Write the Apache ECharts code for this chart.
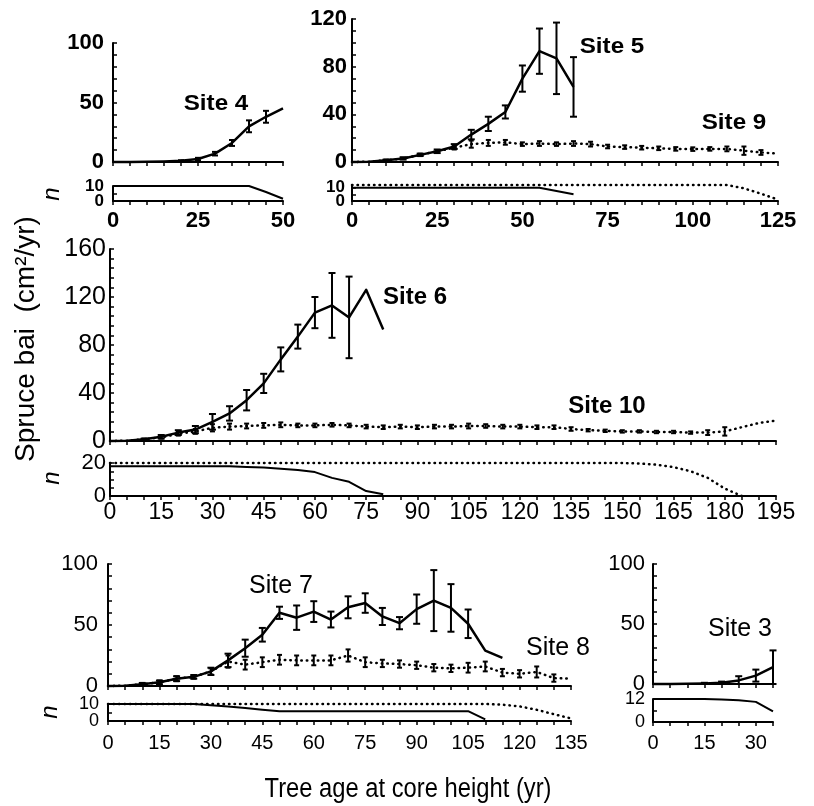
<!DOCTYPE html>
<html><head><meta charset="utf-8">
<script src="https://cdn.jsdelivr.net/npm/echarts@6/dist/echarts.min.js"></script>
<style>html,body{margin:0;padding:0;background:#fff}#c{width:814px;height:806px}</style>
</head><body><div id="c"></div>
<script>
// ---------------- DATA ----------------
// Site 4
const age4 = [0,5,10,15,20,25,30,35,40,45,50];
const bai4 = [0,0,0.2,0.5,1,2.5,7,16,30,38,45];
const se4  = [null,null,null,null,0.5,1,1.5,2.5,5,5,null];
const n4   = [10,10,10,10,10,10,10,10,10,6,1.5];
// Site 5
const age5 = [0,5,10,15,20,25,30,35,40,45,50,55,60,65];
const bai5 = [0,0.3,1.5,3,6,9,13,23,32,42,70,93,87,63];
const se5  = [null,null,0.5,1,1,1.5,2,4,6,5.5,11,19,30,25];
const n5   = [10,10,10,10,10,10,10,10,10,10,10,10,7.5,5];
// Site 9
const age9 = [0,5,10,15,20,25,30,35,40,45,50,55,60,65,70,75,80,85,90,95,100,105,110,115,120,125];
const bai9 = [0,0.3,1.5,3,6,9,12,15,16,16.5,15,15.5,15,15.5,15,13,12.5,12,11.5,11,10.8,11,11,9.5,8,7];
const se9  = [null,null,0.5,0.5,1,1,1.5,3,2.5,2,1.5,2,1.5,2,2,1.5,1.5,1.5,1.5,1.5,1.5,1.5,2,3.5,2,null];
const n9   = [12,12,12,12,12,12,12,12,12,12,12,12,12,12,12,12,12,12,12,12,12,12,12,9.5,5.5,1];
// Site 6
const age6 = [0,5,10,15,20,25,30,35,40,45,50,55,60,65,70,75,80];
const bai6 = [0,0.3,1.5,3.5,7,9.5,16,23,34,48,68,87,107,113,103,126,93];
const se6  = [null,null,0.5,1.5,2,3,6.5,6,8.5,8,10,10,13,27,34,null,null];
const n6   = [18,18,18,18,18,18,18,18,17.6,17.3,16.5,15.7,14.5,11,8.6,3,1];
// Site 10
const age10 = [0,5,10,15,20,25,30,35,40,45,50,55,60,65,70,75,80,85,90,95,100,105,110,115,120,125,130,135,140,145,150,155,160,165,170,175,180,185,190,195];
const bai10 = [0,0.3,1.5,3,6,8,11,12,12.5,13,13.5,13,13,13.5,13,12,11.5,12,11.5,12,12,12.5,12.5,12,12,11.5,11.5,10,9,8.5,8,8,7.5,7.5,7,7,8,11.5,15,17];
const se10  = [null,null,0.5,1,1.5,2,3,2.5,2,2,2,1.5,1.5,1.5,1.5,1.5,1.5,1.5,1.5,1.5,1.5,2,1.5,1.5,1.5,1.5,1.5,1.5,1,1,1,1,1,1,1,2,3.5,null,null,null];
const n10   = [20,20,20,20,20,20,20,20,20,20,20,20,20,20,20,20,20,20,20,20,20,20,20,20,20,20,20,20,20,20,20,19.7,19,17.5,15,11,4.5,0];
// Site 7
const age7 = [0,5,10,15,20,25,30,35,40,45,50,55,60,65,70,75,80,85,90,95,100,105,110,115];
const bai7 = [0,0.3,1.5,3,6,7.5,12,21,31,42,60,56,61,54.5,64.5,68,57,51.5,63,70,64,51,29,23];
const se7  = [null,null,1,1.5,2,1.5,3,5.5,7,5.6,5,10,8.5,6.5,9,8,7,5,12,25,19.5,11.7,null,null];
const n7   = [10,10,10,10,10,10,9.2,8.6,7.6,6.6,5.8,5.8,5.8,5.8,5.8,5.8,5.8,5.8,5.8,5.8,5.8,5.8,1];
// Site 8
const age8 = [0,5,10,15,20,25,30,35,40,45,50,55,60,65,70,75,80,85,90,95,100,105,110,115,120,125,130,135];
const bai8 = [0,0.3,1.5,3,6,7.5,12,20,17.5,19.5,21.5,21,21,21,25,19.5,18.5,18,17,15,14.5,15,16,11,10,11.5,6.5,6];
const se8  = [null,null,1,1.5,2,1.5,2.5,5,4,4,4,4,4,4,5,4,3,3,3,3,3,4,4,3,3,4.5,3,null];
const n8   = [10,10,10,10,10,10,10,10,10,10,10,10,10,10,10,10,10,10,10,10,10,10,10,9.6,8.6,6.6,4,1.5];
// Site 3
const age3 = [0,5,10,15,20,25,30,35];
const bai3 = [0,0,0.2,0.5,1,3,7,14];
const se3  = [null,null,null,0.5,1,3.5,5,14];
const n3   = [12,12,12,12,11.8,11.3,10.5,5.5];

// Tick labels
const xLab1 = [0,25,50];
const xLab2 = [0,25,50,75,100,125];
const xLab3 = [0,15,30,45,60,75,90,105,120,135,150,165,180,195];
const xLab4 = [0,15,30,45,60,75,90,105,120,135];
const xLab5 = [0,15,30];
const yLab1 = [0,50,100];
const yLab2 = [0,40,80,120];
const yLab3 = [0,40,80,120,160];
const yLab4 = [0,50,100];
const yLab5 = [0,50,100];
const nLab1 = [0,10];
const nLab2 = [0,10];
const nLab3 = [0,20];
const nLab4 = [0,10];
const nLab5 = [0,12];

// ---------------- HELPERS ----------------
const FF = '"Liberation Sans", Arial, sans-serif';
function range(a, b, s) { const r = []; for (let v = a; v <= b + 1e-9; v += s) r.push(+v.toFixed(6)); return r; }
function pairs(x, y) { return y.map((v, i) => [x[i], v]); }
function errData(x, y, e) { const o = []; e.forEach((v, i) => { if (v != null) o.push([x[i], Math.max(0, y[i] - v), y[i] + v]); }); return o; }

function lineS(ai, x, y, dotted, w) {
  return { type: 'line', xAxisIndex: ai, yAxisIndex: ai, data: pairs(x, y), symbol: 'none', showSymbol: false,
    silent: true, z: 2, clip: false,
    lineStyle: dotted ? { color: '#000', width: w, type: [0.5, 5], cap: 'round' }
                      : { color: '#000', width: w, type: 'solid', join: 'round' } };
}
function errS(ai, x, y, e, cap, w) {
  return { type: 'custom', xAxisIndex: ai, yAxisIndex: ai, data: errData(x, y, e), silent: true, z: 3,
    encode: { x: 0, y: [1, 2] },
    renderItem: function (params, api) {
      const p1 = api.coord([api.value(0), api.value(2)]);
      const p2 = api.coord([api.value(0), api.value(1)]);
      const st = { stroke: '#000', lineWidth: w };
      return { type: 'group', children: [
        { type: 'line', shape: { x1: p1[0], y1: p1[1], x2: p2[0], y2: p2[1] }, style: st },
        { type: 'line', shape: { x1: p1[0] - cap, y1: p1[1], x2: p1[0] + cap, y2: p1[1] }, style: st },
        { type: 'line', shape: { x1: p2[0] - cap, y1: p2[1], x2: p2[0] + cap, y2: p2[1] }, style: st }
      ] };
    } };
}
function labelCfg(labels, font, margin, show) {
  return { show: show, customValues: labels, color: '#000', margin: margin,
    fontSize: font.size, fontWeight: font.weight, fontFamily: FF,
    hideOverlap: false, showMinLabel: true, showMaxLabel: true };
}
function xAx(gi, max, step, labels, showLab, font, margin) {
  return { type: 'value', gridIndex: gi, min: 0, max: max,
    axisLine: { show: true, onZero: false, lineStyle: { color: '#000', width: 2 } },
    axisTick: { show: true, inside: false, length: 4, customValues: range(0, max, step), lineStyle: { color: '#000', width: 1.5 } },
    axisLabel: labelCfg(labels, font, margin || 8, showLab),
    splitLine: { show: false } };
}
function yAx(gi, max, step, labels, font, margin) {
  return { type: 'value', gridIndex: gi, min: 0, max: max,
    axisLine: { show: true, onZero: false, lineStyle: { color: '#000', width: 2 } },
    axisTick: { show: true, inside: true, length: 4, customValues: range(0, max, step), lineStyle: { color: '#000', width: 1.5 } },
    axisLabel: labelCfg(labels, font, margin, true),
    splitLine: { show: false } };
}
// label-only y axis (used so that tightly stacked n-axis labels are both drawn)
function yLabOnly(gi, max, labels, font, margin) {
  return { type: 'value', gridIndex: gi, min: 0, max: max, position: 'left', offset: 0,
    axisLine: { show: false }, axisTick: { show: false }, splitLine: { show: false },
    axisLabel: labelCfg(labels, font, margin, true) };
}

const fTop = { size: 22, weight: 'bold' };
const fTopN = { size: 17, weight: 'bold' };
const fMidY = { size: 25, weight: 'normal' };
const fMidX = { size: 23, weight: 'normal' };
const fMidN = { size: 22, weight: 'normal' };
const fBot = { size: 22, weight: 'normal' };
const fBotX = { size: 20, weight: 'normal' };
const fBotN = { size: 18, weight: 'normal' };

const grids = [
  { left: 113, top: 43, width: 170, height: 119 },   // 0 site4
  { left: 113, top: 186, width: 170, height: 15 },   // 1 site4 n
  { left: 352, top: 19, width: 426, height: 143 },   // 2 site5/9
  { left: 352, top: 185, width: 426, height: 16 },   // 3 n
  { left: 110, top: 249, width: 666, height: 192 },  // 4 site6/10
  { left: 110, top: 463, width: 666, height: 33 },   // 5 n
  { left: 108, top: 564, width: 463, height: 122 },  // 6 site7/8
  { left: 108, top: 704, width: 463, height: 17 },   // 7 n
  { left: 653, top: 564, width: 120, height: 120 },  // 8 site3
  { left: 653, top: 699, width: 120, height: 23 }    // 9 n
];

const xAxes = [
  xAx(0, 50, 5, xLab1, false, fTop),
  xAx(1, 50, 5, xLab1, true, fTop, 9),
  xAx(2, 125, 5, xLab2, false, fTop),
  xAx(3, 125, 5, xLab2, true, fTop, 9),
  xAx(4, 195, 5, xLab3, false, fMidX),
  xAx(5, 195, 5, xLab3, true, fMidX, 5),
  xAx(6, 135, 5, xLab4, false, fBotX),
  xAx(7, 135, 5, xLab4, true, fBotX, 12),
  xAx(8, 35, 5, xLab5, false, fBotX),
  xAx(9, 35, 5, xLab5, true, fBotX, 11)
];
const yAxes = [
  yAx(0, 100, 10, yLab1, fTop, 9),
  yAx(1, 10, 5, nLab1.slice(0, 1), fTopN, 9),
  yAx(2, 120, 10, yLab2, fTop, 5),
  yAx(3, 12, 5, nLab2.slice(0, 1), fTopN, 7),
  yAx(4, 160, 8, yLab3, fMidY, 4),
  yAx(5, 20, 5, nLab3.slice(0, 1), fMidN, 4),
  yAx(6, 100, 10, yLab4, fBot, 10),
  yAx(7, 10, 5, nLab4.slice(0, 1), fBotN, 9),
  yAx(8, 100, 10, yLab5, fBot, 8),
  yAx(9, 12, 6, nLab5.slice(0, 1), fBotN, 8),
  // upper n labels
  yLabOnly(1, 10, nLab1.slice(1), fTopN, 9),
  yLabOnly(3, 12, nLab2.slice(1), fTopN, 7),
  yLabOnly(5, 20, nLab3.slice(1), fMidN, 4),
  yLabOnly(7, 10, nLab4.slice(1), fBotN, 9),
  yLabOnly(9, 12, nLab5.slice(1), fBotN, 8)
];

const series = [
  // Site 4
  lineS(0, age4, bai4, false, 2.5), errS(0, age4, bai4, se4, 3, 2),
  lineS(1, age4, n4, false, 2),
  // Site 5 & 9
  lineS(2, age9, bai9, true, 2.5), errS(2, age9, bai9, se9, 2.5, 2),
  lineS(2, age5, bai5, false, 2.5), errS(2, age5, bai5, se5, 3.5, 2),
  lineS(3, age9.slice(0, n9.length), n9, true, 2.5),
  lineS(3, age5.slice(0, n5.length), n5, false, 2),
  // Site 6 & 10
  lineS(4, age10, bai10, true, 2.5), errS(4, age10, bai10, se10, 2.5, 2),
  lineS(4, age6, bai6, false, 2.5), errS(4, age6, bai6, se6, 3.5, 2),
  lineS(5, age10.slice(0, n10.length), n10, true, 2.5),
  lineS(5, age6.slice(0, n6.length), n6, false, 2),
  // Site 7 & 8
  lineS(6, age8, bai8, true, 2.5), errS(6, age8, bai8, se8, 2.5, 2),
  lineS(6, age7, bai7, false, 2.5), errS(6, age7, bai7, se7, 3.5, 2),
  lineS(7, age8.slice(0, n8.length), n8, true, 2.5),
  lineS(7, age7.slice(0, n7.length), n7, false, 2),
  // Site 3
  lineS(8, age3, bai3, false, 2.5), errS(8, age3, bai3, se3, 3.5, 2),
  lineS(9, age3.slice(0, n3.length), n3, false, 2)
];

function txt(x, y, s, font, rot, sx) {
  return { type: 'text', x: x, y: y, rotation: rot || 0, scaleX: sx || 1, silent: true,
    style: { text: s, font: font, fill: '#000', align: 'center', verticalAlign: 'middle' } };
}
const graphics = [
  txt(216, 104, 'Site 4', 'bold 22px ' + FF, 0, 1.1),
  txt(612, 47, 'Site 5', 'bold 22px ' + FF, 0, 1.1),
  txt(734, 123, 'Site 9', 'bold 22px ' + FF, 0, 1.1),
  txt(415, 297, 'Site 6', 'bold 24px ' + FF),
  txt(607, 406, 'Site 10', 'bold 24px ' + FF),
  txt(281, 586, 'Site 7', '25px ' + FF),
  txt(558, 648, 'Site 8', '25px ' + FF),
  txt(740, 629, 'Site 3', '25px ' + FF),
  txt(26, 339, 'Spruce bai  (cm\u00B2/yr)', '28px ' + FF, Math.PI / 2),
  txt(52, 194, 'n', 'italic 24px ' + FF, Math.PI / 2),
  txt(52, 478, 'n', 'italic 24px ' + FF, Math.PI / 2),
  txt(50, 712, 'n', 'italic 24px ' + FF, Math.PI / 2),
  { type: 'text', x: 408, y: 790, scaleX: 0.88, silent: true,
    style: { text: 'Tree age at core height (yr)', font: '27px ' + FF, fill: '#000', align: 'center', verticalAlign: 'middle' } }
];

const chart = echarts.init(document.getElementById('c'), null, { renderer: 'canvas' });
chart.setOption({
  animation: false,
  backgroundColor: '#fff',
  grid: grids,
  xAxis: xAxes,
  yAxis: yAxes,
  series: series,
  graphic: graphics
});
</script>
</body></html>
